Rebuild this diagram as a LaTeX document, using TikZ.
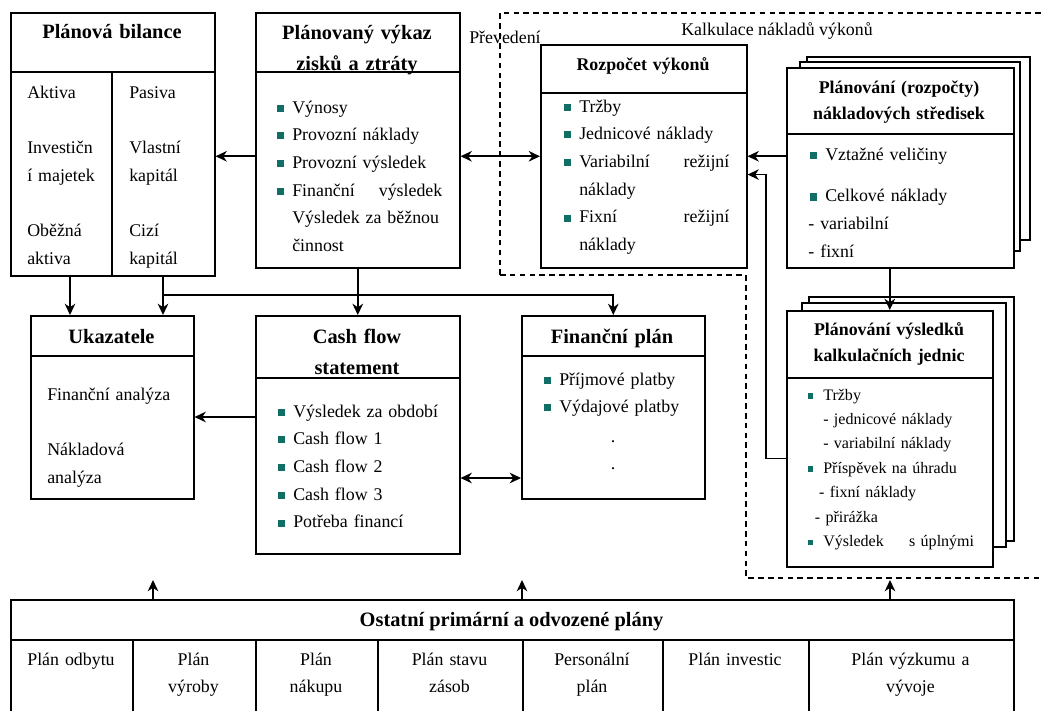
\documentclass[tikz,border=0pt]{standalone}
\usepackage{fontspec}
\setmainfont{Liberation Serif}
\usetikzlibrary{arrows.meta}
\definecolor{bulc}{RGB}{16,110,100}
\newcommand{\sqbul}{\leavevmode\llap{\textcolor{bulc}{\rule[0.9pt]{5pt}{5pt}}\hspace{6pt}}}
\newcommand{\smbul}{\leavevmode\llap{\textcolor{bulc}{\rule[1pt]{4pt}{4pt}}\hspace{7pt}}}
\begin{document}
\begin{tikzpicture}[
  x=0.025cm, y=-0.025cm,
  panel/.style 2 args={draw, line width=1.1pt, fill=white, anchor=north west, inner sep=0pt, minimum width=#1*0.025cm, minimum height=#2*0.025cm},
  sepline/.style={line width=1.1pt},
  head/.style={font=\bfseries\fontsize{14.5}{22.7}\selectfont, align=center, anchor=base, inner sep=0pt},
  headsm/.style={font=\bfseries\fontsize{12.7}{19.1}\selectfont, align=center, anchor=base, inner sep=0pt},
  txt/.style={font=\fontsize{12.7}{19.7}\selectfont, align=left, anchor=base west, inner sep=0pt},
  txtsm/.style={font=\fontsize{11.4}{17.4}\selectfont, align=left, anchor=base west, inner sep=0pt},
  celltxt/.style={font=\fontsize{12.7}{19.9}\selectfont, align=center, anchor=base, inner sep=0pt},
  arrow/.style={-{Stealth[length=8pt,width=7.5pt,inset=2.5pt]}, line width=1.2pt},
  dblarrow/.style={{Stealth[length=8pt,width=7.5pt,inset=2.5pt]}-{Stealth[length=8pt,width=7.5pt,inset=2.5pt]}, line width=1.2pt},
  area/.style={dash pattern=on 4pt off 3pt, line width=0.9pt}
]
\useasboundingbox (0,0) rectangle (1043,710);

% kalkulace area
\draw[area] (500,275) -- (500,13) -- (1043,13);
\draw[area] (500,275) -- (746,275) -- (746,578) -- (1043,578);
\node[txt] (prev) at (469,43) {Převedení};
\node[txt] (kalk) at (681,35) {Kalkulace nákladů výkonů};

% planova bilance
\node[panel={204}{263}] (bil) at (10,12) {};
\draw[sepline] (bil.west |- 0,72) -- (bil.east |- 0,72);
\draw[sepline] (112,72) -- (bil.south -| 112,0);
\node[head, text width=5.1cm] (bilT) at (112,38) {Plánová bilance};
\node[txt, text width=2.2cm] (akt) at (27,98) {Aktiva\\[19.7pt]Investičn\\í majetek\\[19.7pt]Oběžná\\aktiva};
\node[txt, text width=2.2cm] (pas) at (129,98) {Pasiva\\[19.7pt]Vlastní\\kapitál\\[19.7pt]Cizí\\kapitál};

% planovany vykaz
\node[panel={204}{255}] (vyk) at (255,12) {};
\draw[sepline] (vyk.west |- 0,72) -- (vyk.east |- 0,72);
\node[head, text width=5.1cm] (vykT) at (357,39) {Plánovaný výkaz\\zisků a ztráty};
\node[txt, text width=3.75cm] (vykL) at (292,113) {\sqbul Výnosy\\ \sqbul Provozní náklady\\ \sqbul Provozní výsledek\\ \sqbul Finanční\hfill výsledek\\ Výsledek za běžnou\\ činnost};

% rozpocet vykonu
\node[panel={206}{223}] (rozp) at (540,44) {};
\draw[sepline] (rozp.west |- 0,93) -- (rozp.east |- 0,93);
\node[headsm, text width=5.15cm] (rozpT) at (643,70) {Rozpočet výkonů};
\node[txt, text width=3.75cm] (rozpL) at (579,112) {\sqbul Tržby\\ \sqbul Jednicové náklady\\ \sqbul Variabilní\hfill režijní\\ náklady\\ \sqbul Fixní\hfill režijní\\ náklady};

% naklady stredisek (stack)
\node[panel={223}{183}] (nakS2) at (806,56) {};
\node[panel={220}{189}] (nakS1) at (799,61) {};
\node[panel={227}{200}] (nak) at (786,67) {};
\draw[sepline] (nak.west |- 0,134) -- (nak.east |- 0,134);
\node[headsm, text width=5.6cm] (nakT) at (899,93) {Plánování (rozpočty)\\nákladových středisek};
\node[txt, text width=4.5cm] (nakL) at (825,160) {\sqbul Vztažné veličiny\\[10pt] \sqbul Celkové náklady\\ \hspace*{-12pt}- variabilní\\ \hspace*{-12pt}- fixní};

% vysledky kalkulacnich jednic (stack)
\node[panel={205}{244}] (vysS2) at (808,296) {};
\node[panel={204}{244}] (vysS1) at (801,302) {};
\node[panel={206}{256}] (vys) at (786,310) {};
\draw[sepline] (vys.west |- 0,378) -- (vys.east |- 0,378);
\node[headsm, text width=5.15cm] (vysT) at (889,335) {Plánování výsledků\\kalkulačních jednic};
\node[txtsm, text width=4.2cm] (vysL) at (823,400) {\smbul Tržby\\ - jednicové náklady\\ - variabilní náklady\\ \smbul Příspěvek na úhradu\\ \hspace*{-3pt}- fixní náklady\\ \hspace*{-6pt}- přirážka\\ \smbul Výsledek\hspace{18pt}s úplnými};

% ukazatele
\node[panel={163}{183}] (uk) at (30,315) {};
\draw[sepline] (uk.west |- 0,356) -- (uk.east |- 0,356);
\node[head, text width=4cm] (ukT) at (111.5,343) {Ukazatele};
\node[txt, text width=3.5cm] (ukL) at (47,400) {Finanční analýza\\[19.7pt]Nákladová\\analýza};

% cash flow
\node[panel={204}{238}] (cf) at (255,315) {};
\draw[sepline] (cf.west |- 0,378) -- (cf.east |- 0,378);
\node[head, text width=5.1cm] (cfT) at (357,343) {Cash flow\\statement};
\node[txt, text width=4cm] (cfL) at (293,417) {\sqbul Výsledek za období\\ \sqbul Cash flow 1\\ \sqbul Cash flow 2\\ \sqbul Cash flow 3\\ \sqbul Potřeba financí};

% financni plan
\node[panel={183}{183}] (fp) at (521,315) {};
\draw[sepline] (fp.west |- 0,356) -- (fp.east |- 0,356);
\node[head, text width=4.5cm] (fpT) at (612,343) {Finanční plán};
\node[txt, text width=3.8cm] (fpL) at (559,385) {\sqbul Příjmové platby\\ \sqbul Výdajové platby};
\node[celltxt, text width=1cm] (fpD) at (613,442) {.\\.};

% ostatni plany
\node[panel={1003}{40}] (ost) at (10,599) {};
\node[head] (ostT) at (511.5,626) {Ostatní primární a odvozené plány};
\node[panel={122}{80}] (c1) at (10,639) {};
\node[panel={123}{80}] (c2) at (132,639) {};
\node[panel={122}{80}] (c3) at (255,639) {};
\node[panel={145}{80}] (c4) at (377,639) {};
\node[panel={140}{80}] (c5) at (522,639) {};
\node[panel={146}{80}] (c6) at (662,639) {};
\node[panel={205}{80}] (c7) at (808,639) {};
\node[celltxt, text width=2.9cm] (t1) at (71,665) {Plán odbytu};
\node[celltxt, text width=2.9cm] (t2) at (193.5,665) {Plán\\výroby};
\node[celltxt, text width=2.9cm] (t3) at (316,665) {Plán\\nákupu};
\node[celltxt, text width=3.4cm] (t4) at (449.5,665) {Plán stavu\\zásob};
\node[celltxt, text width=3.4cm] (t5) at (592,665) {Personální\\plán};
\node[celltxt, text width=3.4cm] (t6) at (735,665) {Plán investic};
\node[celltxt, text width=4.8cm] (t7) at (910.5,665) {Plán výzkumu a\\vývoje};

% connectors
\draw[arrow] (vyk.west |- rozp.west) -- (bil.east |- rozp.west);
\draw[dblarrow] (vyk.east |- rozp.west) -- (rozp.west);
\draw[arrow] (nak.west |- rozp.east) -- (rozp.east);
\draw[arrow] (vys.north |- nak.south) -- (vys.north);
\draw[arrow] ([yshift=-14pt]vys.west) -- ++(-20,0) |- ([yshift=-13pt]rozp.east);
\draw[arrow] (bil.south -| 70,0) -- (uk.north -| 70,0);
\draw[arrow] (bil.south -| 163,0) -- (uk.north -| 163,0);
\coordinate (jn) at (163,295);
\draw[arrow] (jn) -| (fp.north);
\draw[arrow] (vyk.south) -- (cf.north);
\draw[arrow] (cf.west |- 0,417) -- (uk.east |- 0,417);
\draw[dblarrow] (cf.east |- 0,478) -- (fp.west |- 0,478);
\draw[arrow] (ost.north -| 153,0) -- (153,580);
\draw[arrow] (ost.north -| 522,0) -- (522,580);
\draw[arrow] (ost.north -| 890,0) -- (890,580);
\end{tikzpicture}
\end{document}
